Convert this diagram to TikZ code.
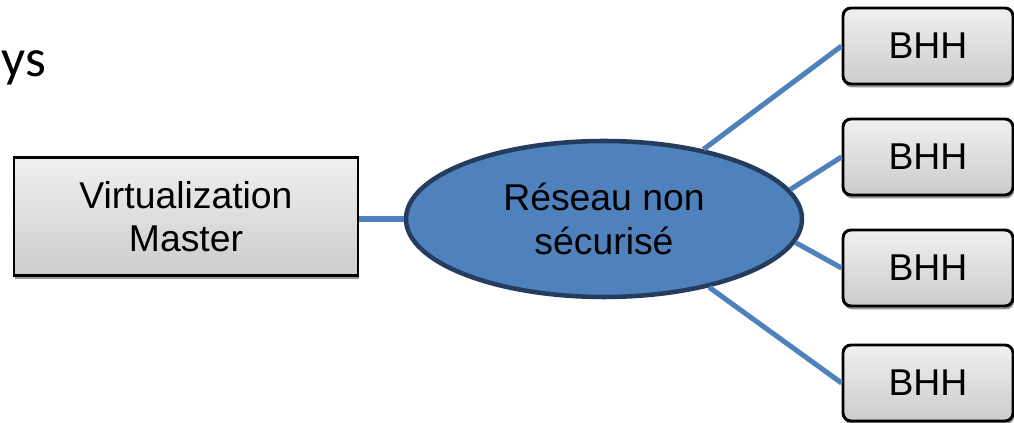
\documentclass[tikz,border=0pt]{standalone}
\usepackage{fontspec}
\setmainfont{Liberation Sans}
\newfontfamily\calibrifont{Carlito}
\usetikzlibrary{shapes.geometric,shadows}

\definecolor{linkblue}{RGB}{79,129,189}
\definecolor{rimblue}{RGB}{36,60,94}

\tikzset{every picture/.style={line width=0.75pt}}
\tikzset{
  graybox/.style={draw=black, line width=2.2pt, top color=gray!12, bottom color=gray!40,
    drop shadow={shadow xshift=0.8pt, shadow yshift=-2.6pt, fill=black!45, opacity=0.9},
    align=center, font=\fontsize{28}{32}\selectfont, inner sep=0pt},
  hostbox/.style={graybox, rounded corners=6pt, minimum width=127.5pt, minimum height=57pt},
  link/.style={draw=linkblue, line width=3.8pt}
}

\begin{document}
\begin{tikzpicture}[x=0.75pt,y=0.75pt,yscale=-1,xscale=1]
\useasboundingbox (0,0) rectangle (1014,423); %set diagram to 1014 x 423

% Text Node
\node (ys) [anchor=base west, font=\calibrifont\fontsize{40}{44}\selectfont, inner sep=0pt] at (1,77) {ys};

%Shape: Rectangle [id:master]
\node (master) [graybox, minimum width=258pt, minimum height=89pt] at (186,216.5) {Virtualization\\Master};

%Shape: Ellipse [id:reseau]
\node (reseau) [ellipse, draw=rimblue, line width=3.4pt, fill=linkblue, inner sep=0pt,
  minimum width=297pt, minimum height=117pt, align=center,
  font=\fontsize{28}{33}\selectfont] at (604,219) {R\'eseau non\\s\'ecuris\'e};

%Shape: Rounded Rectangle [id:bhh1..bhh4]
\node (bhh1) [hostbox] at (928,46) {BHH};
\node (bhh2) [hostbox] at (928,157) {BHH};
\node (bhh3) [hostbox] at (928,268) {BHH};
\node (bhh4) [hostbox] at (928,383) {BHH};

% Links
\draw [link] (master.east |- reseau.west) -- (reseau.west);
\draw [link] (reseau.35) -- (bhh1.west);
\draw [link] (reseau.9) -- (bhh2.west);
\draw [link] (reseau.-7) -- (bhh3.west);
\draw [link] (reseau.-33) -- (bhh4.west);

\end{tikzpicture}
\end{document}
